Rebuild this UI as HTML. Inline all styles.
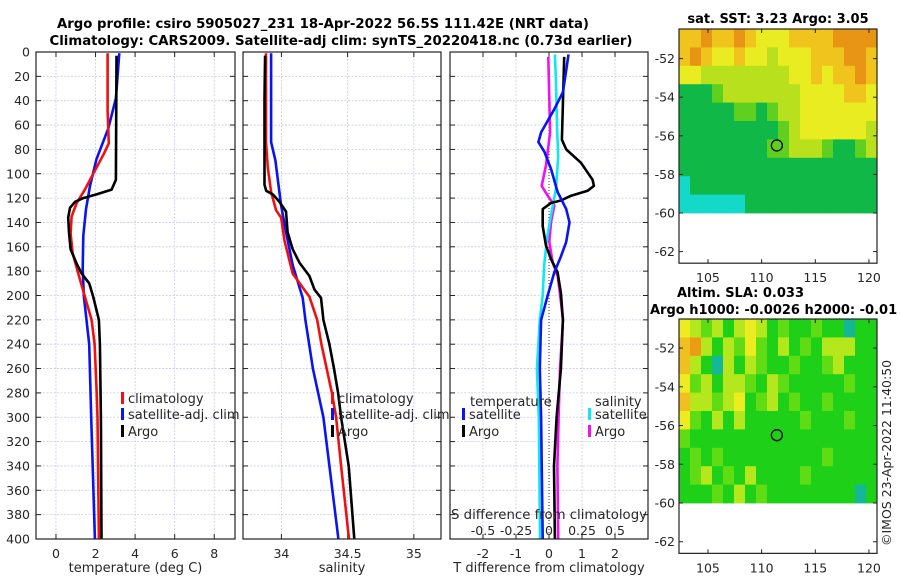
<!DOCTYPE html>
<html><head><meta charset="utf-8"><style>
html,body{margin:0;padding:0;background:#fff;}
svg{display:block;font-family:"DejaVu Sans","Liberation Sans",sans-serif;}
</style></head><body>
<svg id="fig" width="900" height="580" viewBox="0 0 900 580" xmlns="http://www.w3.org/2000/svg">
<text x="323" y="28" font-size="13" font-weight="bold" text-anchor="middle" textLength="532" lengthAdjust="spacingAndGlyphs">Argo profile: csiro 5905027_231 18-Apr-2022 56.5S 111.42E (NRT data)</text>
<text x="341" y="45" font-size="13" font-weight="bold" text-anchor="middle" textLength="583" lengthAdjust="spacingAndGlyphs">Climatology: CARS2009. Satellite-adj clim: synTS_20220418.nc (0.73d earlier)</text>
<g id="g"></g>
</svg>
<script>
// ---------- data ----------
const depthTicks=[0,20,40,60,80,100,120,140,160,180,200,220,240,260,280,300,320,340,360,380,400];
const tTicks=[0,2,4,6,8];
const sTicks=[34,34.5,35];
const dTicks=[-2,-1,0,1,2];
const sdTicks=[-0.5,-0.25,0,0.25,0.5];
const sdTickLabels=["-0.5","-0.25","0","0.25","0.5"];
// temperature
const tClimDepth=[1,48,75,83,100,113,124,135,149,165,182,201,220,240,280,300,400];
const tClimVal=[2.61,2.61,2.67,2.44,1.88,1.46,1.05,0.79,0.74,0.84,1.13,1.46,1.80,1.95,2.06,2.10,2.17];
const tSatDepth=[1,38,63,88,110,129,151,178,201,240,300,400];
const tSatVal=[3.2,3.03,2.64,2.05,1.72,1.52,1.38,1.35,1.41,1.68,1.78,1.97];
const tArgoDepth=[3,105,113,117,120,123,128,136,148,162,174,182,190,201,220,240,300,400];
const tArgoVal=[3.06,3.03,2.81,2.05,1.38,0.96,0.71,0.62,0.66,0.74,1.05,1.30,1.68,1.88,2.17,2.22,2.27,2.3];
// salinity
const sClimDepth=[1,74,95,115,130,136,155,182,201,220,240,280,300,340,400];
const sClimVal=[33.884,33.884,33.897,33.922,33.96,33.998,34.023,34.085,34.211,34.27,34.302,34.381,34.413,34.451,34.51];
const sSatDepth=[1,74,89,126,148,175,202,220,260,300,340,400];
const sSatVal=[33.922,33.922,33.955,33.998,34.035,34.085,34.161,34.181,34.238,34.317,34.362,34.43];
const sArgoDepth=[3,38,109,114,117,123,131,148,162,173,184,195,202,220,240,260,280,300,340,400];
const sArgoVal=[33.877,33.872,33.872,33.885,33.935,33.985,34.035,34.047,34.085,34.136,34.211,34.249,34.299,34.317,34.362,34.397,34.428,34.451,34.508,34.55];
// differences
const dTSatDepth=[2,15,33,47,66,74,82,96,115,129,140,156,168,181,200,220,260,300,400];
const dTSatVal=[0.59,0.52,0.42,0.16,-0.24,-0.32,-0.14,0.06,0.26,0.52,0.62,0.52,0.36,0.16,-0.04,-0.24,-0.28,-0.24,-0.19];
const dTArgoDepth=[4,72,80,91,105,110,114,118,122,124,129,143,159,170,181,198,220,260,300,340,400];
const dTArgoVal=[0.46,0.39,0.52,0.97,1.32,1.36,1.17,0.67,0.36,0.06,-0.19,-0.19,-0.09,0.06,0.26,0.36,0.42,0.36,0.23,0.15,0.18];
const dSSatDepth=[2,25,63,86,112,134,153,175,200,220,260,300,400];
const dSSatVal=[0.045,0.053,0.061,0.07,0.053,0.015,-0.015,-0.036,-0.048,-0.07,-0.092,-0.077,-0.068];
const dSArgoDepth=[4,39,66,93,110,118,126,140,156,173,184,194,220,260,300,340,400];
const dSArgoVal=[-0.005,0.002,0.008,-0.023,-0.055,-0.01,0.04,0.015,0.002,0.028,0.066,0.078,0.106,0.083,0.073,0.064,0.07];
// maps
const lonTicks=[105,110,115,120];
const latTicks=[-52,-54,-56,-58,-60,-62];
const argoLon=111.42, argoLat=-56.5;
const sstGrid=[
[5,5,6,5,5,6,5,4,4,4,5,5,5,5,6,6,6,6],
[5,6,5,4,4,5,4,4,3,4,4,4,5,5,5,6,6,5],
[4,4,3,3,3,3,3,3,3,3,4,4,5,4,5,5,6,5],
[1,1,1,2,3,3,3,3,3,3,3,4,4,4,4,5,5,4],
[1,1,1,1,1,2,2,1,2,3,3,4,4,4,4,4,4,4],
[1,1,1,1,1,1,1,1,1,2,3,4,4,4,4,4,4,3],
[1,1,1,1,1,1,1,1,2,2,3,3,3,2,1,1,2,3],
[1,1,1,1,1,1,1,1,1,1,1,1,1,1,1,1,1,1],
[0,1,1,1,1,1,1,1,1,1,1,1,1,1,1,1,1,1],
[0,0,0,0,0,0,1,1,1,1,1,1,1,1,1,1,1,1]];
const slaGrid=[
[4,3,2,3,1,3,4,3,1,2,1,1,2,1,1,0,1,1],
[5,6,3,1,3,2,4,2,1,3,1,2,1,3,3,3,1,1],
[5,3,1,0,3,1,3,2,1,1,2,1,1,2,3,1,1,1],
[4,2,3,1,3,3,2,1,3,2,1,1,1,1,1,2,1,1],
[5,3,3,2,3,4,1,2,3,1,2,1,1,2,1,1,1,1],
[4,2,1,3,1,3,1,1,1,1,1,2,1,1,1,2,1,1],
[2,1,1,1,1,1,1,1,1,1,1,1,1,1,1,1,1,1],
[1,2,1,2,1,1,1,1,1,1,1,1,1,2,1,1,1,1],
[1,2,3,1,2,1,3,1,1,1,1,2,1,1,1,1,1,1],
[1,1,1,2,1,3,1,2,1,1,1,1,1,1,1,1,0,1]];

// ---------- drawing ----------
const NS="http://www.w3.org/2000/svg";
const G=document.getElementById('g');
function mk(tag,attrs,parent,txt){const e=document.createElementNS(NS,tag);for(const k in attrs)e.setAttribute(k,attrs[k]);if(txt!==undefined)e.textContent=txt;(parent||G).appendChild(e);return e;}
const Y0=52,Y1=539;
const yD=d=>Y0+(d/400)*(Y1-Y0);
const panels=[
 {x0:36,x1:235,min:-1.01,max:9.05,ticks:tTicks,grid:[0,2,4,6,8],label:"temperature (deg C)",name:"temperature-panel"},
 {x0:243,x1:441,min:33.71,max:35.205,ticks:sTicks,grid:[34,34.5,35],label:"salinity",name:"salinity-panel"},
 {x0:450,x1:648,min:-3.0,max:3.0,ticks:dTicks,grid:[-2,-1,1,2],label:"T difference from climatology",name:"difference-panel"}];
panels.forEach(p=>{p.sx=v=>p.x0+(v-p.min)/(p.max-p.min)*(p.x1-p.x0);});
const sdx=v=>panels[2].sx(v*4);

panels.forEach((p,pi)=>{
 const grp=mk('g',{});
 
 
 depthTicks.forEach(d=>{ if(d>0&&d<400){const l=mk('line',{x1:p.x0,x2:p.x1,y1:yD(d),y2:yD(d),stroke:'#c5cce6','stroke-width':0.8,'stroke-dasharray':'2,1.5'},grp);
   }
   mk('line',{x1:p.x0,x2:p.x0+5,y1:yD(d),y2:yD(d),stroke:'#222'},grp);
   mk('line',{x1:p.x1-5,x2:p.x1,y1:yD(d),y2:yD(d),stroke:'#222'},grp);});
 p.grid.forEach(v=>{const l=mk('line',{x1:p.sx(v),x2:p.sx(v),y1:Y0,y2:Y1,stroke:'#c5cce6','stroke-width':0.8,'stroke-dasharray':'2,1.5'},grp);
   });
 p.ticks.forEach(v=>{mk('line',{x1:p.sx(v),x2:p.sx(v),y1:Y1,y2:Y1-5,stroke:'#222'},grp);mk('line',{x1:p.sx(v),x2:p.sx(v),y1:Y0,y2:Y0+5,stroke:'#222'},grp);
   const t=mk('text',{x:p.sx(v),y:Y1+19,'font-size':12.5,'text-anchor':'middle',fill:'#262626'},grp,String(v));
   });
 const xl=mk('text',{x:(p.x0+p.x1)/2,y:572,'font-size':13,'text-anchor':'middle',fill:'#262626'},grp,p.label);
 
});
depthTicks.forEach(d=>{const t=mk('text',{x:30,y:yD(d)+4.5,'font-size':12.5,'text-anchor':'end',fill:'#262626'},G,String(d));
 });

const zl=mk('line',{x1:panels[2].sx(0),x2:panels[2].sx(0),y1:Y0,y2:Y1,stroke:'#333','stroke-width':1,'stroke-dasharray':'1,2'});


function series(depths,vals,sx,color,name){
 const d=depths.map((dp,i)=>(i?'L':'M')+sx(vals[i]).toFixed(1)+','+yD(dp).toFixed(1)).join(' ');
 const p=mk('path',{d:d,fill:'none',stroke:color,'stroke-width':2.6,'stroke-linejoin':'round'});
 
 
}
const P=panels;
series(tSatDepth,tSatVal,P[0].sx,'#0a14f0','temp-satellite-line');
series(tClimDepth,tClimVal,P[0].sx,'#f01010','temp-climatology-line');
series(tArgoDepth,tArgoVal,P[0].sx,'#000','temp-argo-line');
series(sSatDepth,sSatVal,P[1].sx,'#0a14f0','sal-satellite-line');
series(sClimDepth,sClimVal,P[1].sx,'#f01010','sal-climatology-line');
series(sArgoDepth,sArgoVal,P[1].sx,'#000','sal-argo-line');
series(dSArgoDepth,dSArgoVal,sdx,'#f010f0','sdiff-argo-line');
series(dSSatDepth,dSSatVal,sdx,'#10e8f0','sdiff-satellite-line');
series(dTArgoDepth,dTArgoVal,P[2].sx,'#000','tdiff-argo-line');
series(dTSatDepth,dTSatVal,P[2].sx,'#0a14f0','tdiff-satellite-line');

panels.forEach(p=>{const r=mk('rect',{x:p.x0,y:Y0,width:p.x1-p.x0,height:Y1-Y0,fill:'none',stroke:'#222','stroke-width':1.2});
 });

function legend(x,y,color,label,name){
 const g=mk('g',{});
 mk('rect',{x:x,y:y-10,width:3,height:12,fill:color},g);
 mk('text',{x:x+7,y:y+1,'font-size':13,fill:'#262626'},g,label);}
legend(121,402,'#f01010','climatology','legend-climatology');
legend(121,418,'#0a14f0','satellite-adj. clim','legend-satellite-adj');
legend(121,435,'#000','Argo','legend-argo');
legend(331,402,'#f01010','climatology','legend-sal-climatology');
legend(331,418,'#0a14f0','satellite-adj. clim','legend-sal-satellite-adj');
legend(331,435,'#000','Argo','legend-sal-argo');
mk('text',{x:470,y:406,'font-size':13,fill:'#262626'},G,'temperature');
legend(462,418,'#0a14f0','satellite','legend-tdiff-satellite');
legend(462,435,'#000','Argo','legend-tdiff-argo');
mk('text',{x:595,y:406,'font-size':13,fill:'#262626'},G,'salinity');
legend(588,418,'#10e8f0','satellite','legend-sdiff-satellite');
legend(588,435,'#f010f0','Argo','legend-sdiff-argo');
const st=mk('text',{x:451,y:519,'font-size':13,fill:'#262626',textLength:196,lengthAdjust:'spacingAndGlyphs'},G,'S difference from climatology');

sdTicks.forEach((v,i)=>{const t=mk('text',{x:sdx(v),y:535,'font-size':12.5,'text-anchor':'middle',fill:'#262626'},G,sdTickLabels[i]);
 });

const pal1=['#14d8c8','#10b848','#60d020','#b8e01c','#e8ec20','#f0c41c','#e89414'];
const pal2=['#14b898','#1ed018','#60dc14','#b4e81c','#ecec20','#f0c020','#ec9c14'];
function map(top,lat60,pxPerLat,grid,pal,name){
 const X0=679,X1=877,lonMin=102.3,lonMax=120.75;
 const sx=l=>X0+(l-lonMin)/(lonMax-lonMin)*(X1-X0);
 const sy=la=>lat60-(la+60)*pxPerLat;
 const g=mk('g',{});
 const rows=grid.length,cols=grid[0].length;
 const ch=(lat60-top)/rows,cw=(X1-X0)/cols;
 grid.forEach((row,r)=>row.forEach((v,c)=>{
  mk('rect',{x:(X0+c*cw).toFixed(2),y:(top+r*ch).toFixed(2),width:(cw+0.4).toFixed(2),height:(ch+0.4).toFixed(2),fill:pal[v]},g);}));
 const bot=sy(-62.6);
 latTicks.forEach(la=>{const y=sy(la);mk('line',{x1:X0,x2:X0+4,y1:y,y2:y,stroke:'#222'},g);mk('line',{x1:X1-4,x2:X1,y1:y,y2:y,stroke:'#222'},g);
  mk('text',{x:675,y:y+4.5,'font-size':12.5,'text-anchor':'end',fill:'#262626'},g,String(la));});
 lonTicks.forEach(lo=>{const x=sx(lo);mk('line',{x1:x,x2:x,y1:bot,y2:bot-4,stroke:'#222'},g);mk('line',{x1:x,x2:x,y1:top,y2:top+4,stroke:'#222'},g);
  mk('text',{x:x,y:bot+19,'font-size':12.5,'text-anchor':'middle',fill:'#262626'},g,String(lo));});
 mk('rect',{x:X0,y:top,width:X1-X0,height:bot-top,fill:'none',stroke:'#222','stroke-width':1.2},g);
 const c=mk('circle',{cx:sx(argoLon),cy:sy(argoLat),r:5.5,fill:'none',stroke:'#000','stroke-width':1.3},g);
 
}
map(29,213,19.3,sstGrid,pal1,'sst-map');
map(319,503,19.37,slaGrid,pal2,'sla-map');
mk('text',{x:778,y:23,'font-size':13,'font-weight':'bold','text-anchor':'middle',fill:'#000'},G,'sat. SST: 3.23 Argo: 3.05');
mk('text',{x:677,y:297,'font-size':13,'font-weight':'bold',fill:'#000'},G,'Altim. SLA: 0.033');
mk('text',{x:650,y:314,'font-size':13,'font-weight':'bold',fill:'#000'},G,'Argo h1000: -0.0026 h2000: -0.01');
const cr=mk('text',{x:0,y:0,'font-size':12.5,fill:'#262626',transform:'translate(891,546) rotate(-90)'},G,'©IMOS 23-Apr-2022 11:40:50');

</script>
</body></html>
